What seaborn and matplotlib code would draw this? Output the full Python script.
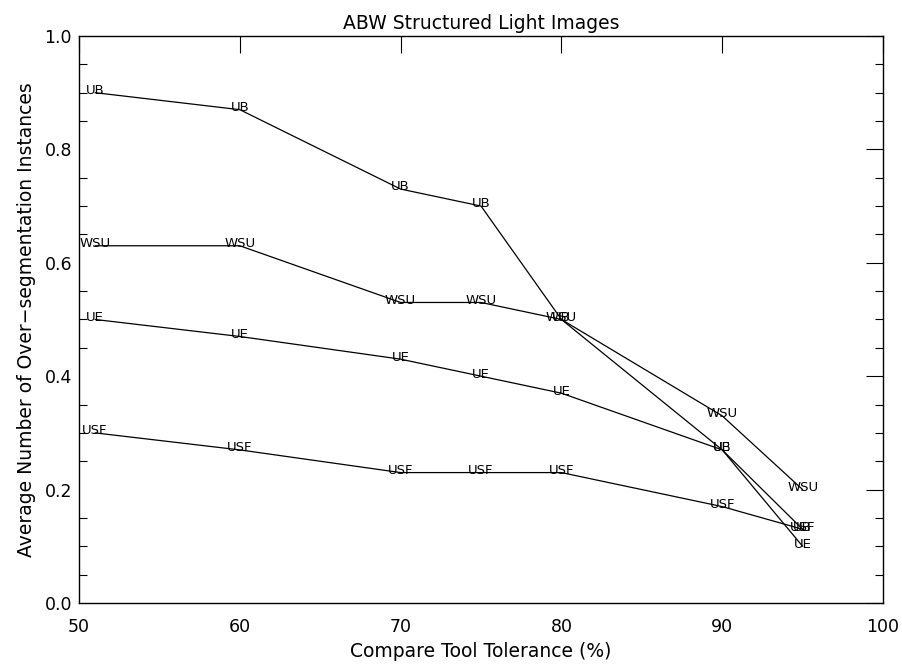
import matplotlib
matplotlib.use("Agg")
import matplotlib.pyplot as plt
from matplotlib.ticker import MultipleLocator
import seaborn as sns
import pandas as pd

# Compare tool tolerance (%) at which each segmenter was evaluated
tolerance = [51, 60, 70, 75, 80, 90, 95]

# Average number of over-segmentation instances per segmenter
ub = [0.90, 0.87, 0.73, 0.70, 0.50, 0.27, 0.13]
wsu = [0.63, 0.63, 0.53, 0.53, 0.50, 0.33, 0.20]
ue = [0.50, 0.47, 0.43, 0.40, 0.37, 0.27, 0.10]
usf = [0.30, 0.27, 0.23, 0.23, 0.23, 0.17, 0.13]

series = {"UB": ub, "WSU": wsu, "UE": ue, "USF": usf}

x_ticks = [50, 60, 70, 80, 90, 100]
x_tick_labels = ["50", "60", "70", "80", "90", "100"]
y_ticks = [0.0, 0.2, 0.4, 0.6, 0.8, 1.0]
y_tick_labels = ["0.0", "0.2", "0.4", "0.6", "0.8", "1.0"]

rows = []
for name, vals in series.items():
    for x, y in zip(tolerance, vals):
        rows.append({"tolerance": x, "value": y, "segmenter": name})
df = pd.DataFrame(rows)

sns.set_style("white")
plt.rcParams["font.family"] = ["DejaVu Sans"]
plt.rcParams["text.color"] = "black"
plt.rcParams["axes.labelcolor"] = "black"
plt.rcParams["xtick.color"] = "black"
plt.rcParams["ytick.color"] = "black"

fig = plt.figure(figsize=(9.03, 6.66), dpi=100)
ax = fig.add_axes([0.0875, 0.0946, 0.8904, 0.8514])

sns.lineplot(data=df, x="tolerance", y="value", hue="segmenter",
             palette=["black"] * len(series), legend=False,
             linewidth=0.9, ax=ax, sort=False, estimator=None)

# Series name drawn at each point in place of a marker
for name, vals in series.items():
    for x, y in zip(tolerance, vals):
        ax.annotate(name, (x, y), xytext=(0, 1.5), textcoords="offset points",
                    ha="center", va="center", fontsize=9.5, color="black")

ax.set_xlim(50, 100)
ax.set_ylim(0.0, 1.0)
ax.set_xticks(x_ticks)
ax.set_xticklabels(x_tick_labels)
ax.set_yticks(y_ticks)
ax.set_yticklabels(y_tick_labels)
ax.yaxis.set_minor_locator(MultipleLocator(0.05))

ax.tick_params(axis="both", which="major", direction="in", length=12,
               width=0.8, top=True, right=True, labelsize=12.5,
               color="black")
ax.tick_params(axis="x", which="major", pad=11)
ax.tick_params(axis="y", which="major", pad=5)
ax.tick_params(axis="y", which="minor", direction="in", length=6,
               width=0.8, left=True, right=True, color="black")

for side in ax.spines.values():
    side.set_color("black")
    side.set_linewidth(1.0)

ax.set_xlabel("Compare Tool Tolerance (%)", fontsize=13.5, labelpad=4)
ax.set_ylabel("Average Number of Over\u2212segmentation Instances",
              fontsize=13.5, labelpad=6)
ax.set_title("ABW Structured Light Images", fontsize=13.5, pad=5)

fig.savefig("out.png", dpi=100, facecolor="white")
